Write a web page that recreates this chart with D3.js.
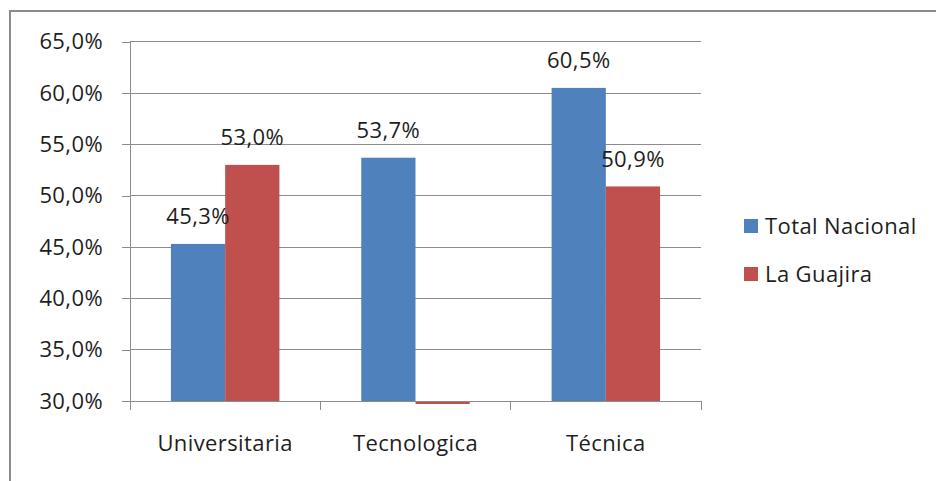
<!DOCTYPE html>
<html>
<head>
<meta charset="utf-8">
<script src="https://cdn.jsdelivr.net/npm/d3@7"></script>
<style>
  html, body { margin: 0; padding: 0; background: #fff; }
  svg { display: block; }
  text { font-family: "Open Sans", "Noto Sans", sans-serif; fill: #1e1e1e; letter-spacing: 0.4px; }
</style>
</head>
<body>
<svg id="chart" width="936" height="481"></svg>
<script>
const categories = ["Universitaria", "Tecnologica", "Técnica"];
const seriesNames = ["Total Nacional", "La Guajira"];
const totalNacional = [45.3, 53.7, 60.5];
const laGuajira = [53.0, 0, 50.9];
const yTicks = [30, 35, 40, 45, 50, 55, 60, 65];
const colors = ["#4F81BD", "#C0504D"];

(function () {
const svg = d3.select("#chart");

// outer frame (extends past right/bottom edge)
svg.append("rect").attr("x", 10).attr("y", 11).attr("width", 1000).attr("height", 1000)
  .attr("fill", "none").attr("stroke", "#8a8a8a").attr("stroke-width", 2);

const pLeft = 130, pRight = 701, pTop = 41.7, pBottom = 401;

const y = d3.scaleLinear().domain([30, 65]).range([pBottom, pTop]);
const x = d3.scaleBand().domain(categories).range([pLeft, pRight])
  .paddingInner(0.43).paddingOuter(0.215);
const xs = d3.scaleBand().domain(seriesNames).range([0, x.bandwidth()]).padding(0);

const gridColor = "#8c8c8c";
const fmt = v => d3.format(".1f")(v).replace(".", ",") + "%";

// gridlines
svg.append("g").selectAll("line").data(yTicks).join("line")
  .attr("x1", pLeft).attr("x2", pRight)
  .attr("y1", d => y(d)).attr("y2", d => y(d))
  .attr("stroke", gridColor).attr("stroke-width", 1).attr("shape-rendering", "crispEdges");

// y axis
const yAxis = d3.axisLeft(y).tickValues(yTicks).tickSize(8).tickPadding(19).tickFormat(fmt);
const gy = svg.append("g").attr("transform", `translate(${pLeft},0)`).call(yAxis);
gy.select(".domain").attr("stroke", gridColor).attr("shape-rendering", "crispEdges");
gy.selectAll(".tick line").attr("stroke", gridColor).attr("shape-rendering", "crispEdges");
gy.selectAll(".tick text").style("font-size", "22px").attr("fill", "#1e1e1e")
  .style("font-family", "'Open Sans', sans-serif");

// clip for bars (allow slightly below baseline)
svg.append("clipPath").attr("id", "plotclip").append("rect")
  .attr("x", pLeft).attr("y", pTop).attr("width", pRight - pLeft).attr("height", pBottom - pTop + 3);

const data = [];
categories.forEach((c, i) => {
  data.push({ cat: c, s: seriesNames[0], v: totalNacional[i], color: colors[0] });
  data.push({ cat: c, s: seriesNames[1], v: laGuajira[i], color: colors[1] });
});

const bars = svg.append("g").attr("clip-path", "url(#plotclip)");
bars.selectAll("rect").data(data).join("rect")
  .attr("x", d => x(d.cat) + xs(d.s))
  .attr("width", xs.bandwidth())
  .attr("y", d => Math.min(y(d.v), y(30)))
  .attr("height", d => Math.abs(y(d.v) - y(30)))
  .attr("fill", d => d.color);

// bottom axis line + category ticks
svg.append("line").attr("x1", pLeft).attr("x2", pRight).attr("y1", pBottom).attr("y2", pBottom)
  .attr("stroke", gridColor).attr("shape-rendering", "crispEdges");
const boundaries = d3.range(categories.length + 1).map(i => pLeft + i * x.step());
svg.append("g").selectAll("line").data(boundaries).join("line")
  .attr("x1", d => d).attr("x2", d => d).attr("y1", pBottom).attr("y2", pBottom + 9)
  .attr("stroke", gridColor).attr("shape-rendering", "crispEdges");

// category labels
svg.append("g").selectAll("text").data(categories).join("text")
  .attr("x", d => x(d) + x.bandwidth() / 2).attr("y", 451)
  .attr("text-anchor", "middle").style("font-size", "22px").text(d => d);

// data labels
svg.append("g").selectAll("text").data(data.filter(d => d.v >= 30)).join("text")
  .attr("x", d => x(d.cat) + xs(d.s) + xs.bandwidth() / 2)
  .attr("y", d => y(d.v) - 19.5)
  .attr("text-anchor", "middle").style("font-size", "22px").text(d => fmt(d.v));

// legend
const lg = svg.append("g");
seriesNames.forEach((s, i) => {
  const yy = 219 + i * 48;
  lg.append("rect").attr("x", 744).attr("y", yy).attr("width", 14).attr("height", 14).attr("fill", colors[i]);
  lg.append("text").attr("x", 765).attr("y", yy + 15).style("font-size", "22px").text(s);
});
})();
</script>
</body>
</html>
